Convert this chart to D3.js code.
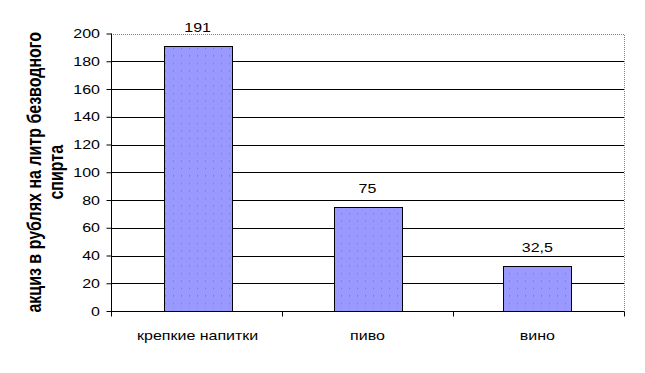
<!DOCTYPE html>
<html><head><meta charset="utf-8">
<script src="https://cdn.jsdelivr.net/npm/d3@7"></script>
<style>body{margin:0;background:#fff}svg{display:block}text{font-family:"Liberation Sans",Arial,sans-serif}</style>
</head><body>
<script>
const categories = ["крепкие напитки", "пиво", "вино"];
const values = [191, 75, 32.5];
const valueLabels = ["191", "75", "32,5"];
const yTicks = [0, 20, 40, 60, 80, 100, 120, 140, 160, 180, 200];
const yTitle = ["акциз в рублях на литр безводного", "спирта"];

const W = 645, H = 373;
const SX = 1.23; // horizontal stretch of all text
const FONT = '"Liberation Sans",Arial,sans-serif';
const m = {left: 111, right: 21, top: 33.5, bottom: 62};
const svg = d3.select("body").append("svg").attr("width", W).attr("height", H);
const defs = svg.append("defs");
const pat = defs.append("pattern").attr("id", "dots").attr("patternUnits", "userSpaceOnUse")
  .attr("width", 8).attr("height", 7.5);
pat.append("rect").attr("width", 8).attr("height", 7.5).attr("fill", "#9999ff");
pat.append("rect").attr("x", 5).attr("y", 3).attr("width", 1).attr("height", 1).attr("fill", "#6b6bd6");

const x = d3.scaleBand().domain(categories).range([m.left, W - m.right]).paddingInner(0.6).paddingOuter(0.31);
const y = d3.scaleLinear().domain([0, 200]).range([H - m.bottom, m.top]);
const x0 = m.left, x1 = W - m.right;

// gridlines
svg.append("g").selectAll("line").data(yTicks.filter(d => d > 0 && d < 200)).join("line")
  .attr("x1", x0).attr("x2", x1).attr("y1", d => Math.round(y(d)) + 0.5).attr("y2", d => Math.round(y(d)) + 0.5)
  .attr("stroke", "#000").attr("stroke-width", 1);
// plot border top & right
svg.append("path").attr("d", `M${x0},${Math.round(y(200))+0.5}H${x1+0.5}V${Math.round(y(0))}`)
  .attr("fill", "none").attr("stroke", "#808080").attr("stroke-dasharray", "1,1");

// bars
svg.append("g").selectAll("rect").data(values).join("rect")
  .attr("x", (d, i) => Math.round(x(categories[i])) + 0.5)
  .attr("y", d => Math.round(y(d)) + 0.5)
  .attr("width", Math.round(x.bandwidth()))
  .attr("height", d => Math.round(y(0)) - Math.round(y(d)))
  .attr("fill", "url(#dots)").attr("stroke", "#000").attr("stroke-width", 1);

// value labels
svg.append("g").selectAll("text").data(values).join("text")
  .attr("transform", (d, i) => `translate(${x(categories[i]) + x.bandwidth() / 2},${Math.round(y(d)) - 14}) scale(${SX},1)`)
  .attr("text-anchor", "middle").attr("font-size", 13).text((d, i) => valueLabels[i]);

// y axis
const yAxis = d3.axisLeft(y).tickValues(yTicks).tickSize(5).tickPadding(5);
const gy = svg.append("g").attr("transform", `translate(${x0 + 0.5},0)`).call(yAxis);
gy.select(".domain").attr("d", `M0,${y(200)}V${y(0)}`).attr("stroke", "#000");
gy.selectAll(".tick line").attr("stroke", "#000");
gy.selectAll(".tick text").attr("x", null).attr("transform", `translate(-11.5,0) scale(${SX},1)`)
  .attr("font-size", 13).attr("fill", "#000").attr("font-family", FONT);

// x axis
const xAxis = d3.axisBottom(x).tickSize(0).tickPadding(0);
const gx = svg.append("g").attr("transform", `translate(0,${Math.round(y(0)) + 0.5})`).call(xAxis);
gx.select(".domain").attr("d", `M${x0},0H${x1 + 0.5}`).attr("stroke", "#000");
gx.selectAll(".tick text").attr("y", null).attr("dy", null)
  .attr("transform", `translate(0,28) scale(${SX},1)`)
  .attr("font-size", 13).attr("fill", "#000").attr("font-family", FONT);
// category boundary ticks
gx.append("g").selectAll("line").data(d3.range(categories.length + 1)).join("line")
  .attr("x1", i => Math.round(x0 + i * (x1 - x0) / categories.length) + 0.5)
  .attr("x2", i => Math.round(x0 + i * (x1 - x0) / categories.length) + 0.5)
  .attr("y1", 0).attr("y2", 5).attr("stroke", "#000");

// y title
const cy = (y(0) + y(200)) / 2;
const t = svg.append("text").attr("transform", `translate(41,${cy}) scale(${SX},1) rotate(-90)`)
  .attr("text-anchor", "middle").attr("font-size", 16).attr("font-weight", "bold");
t.append("tspan").attr("x", 0).attr("dy", 0).text(yTitle[0]);
t.append("tspan").attr("x", 0).attr("dy", 18).text(yTitle[1]);
</script>
</body></html>
